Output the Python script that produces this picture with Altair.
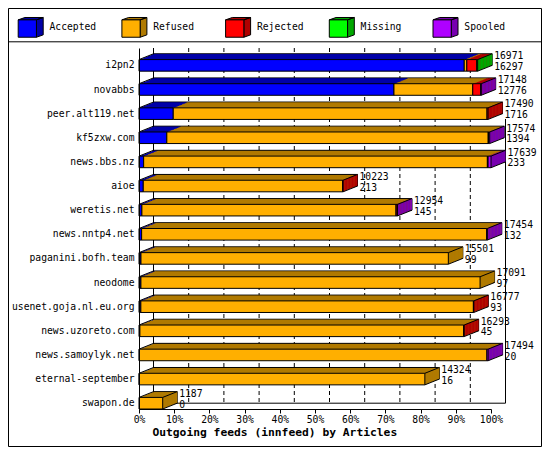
import altair as alt
import pandas as pd

# ---------------- data ----------------
hosts = ["i2pn2", "novabbs", "peer.alt119.net", "kf5zxw.com", "news.bbs.nz",
         "aioe", "weretis.net", "news.nntp4.net", "paganini.bofh.team", "neodome",
         "usenet.goja.nl.eu.org", "news.uzoreto.com", "news.samoylyk.net",
         "eternal-september", "swapon.de"]
totals = [16971, 17148, 17490, 17574, 17639, 10223, 12954, 17454, 15501, 17091,
          16777, 16293, 17494, 14324, 1187]
accepted = [16297, 12776, 1716, 1394, 233, 213, 145, 132, 99, 97, 93, 45, 20, 16, 0]
refused = [130, 3950, 15724, 16105, 17225, 9990, 12734, 17292, 15402, 16994,
           16664, 16223, 17414, 14308, 1187]
rejected = [500, 400, 50, 15, 35, 20, 60, 0, 0, 0, 20, 25, 0, 0, 0]
missing = [44, 0, 0, 0, 0, 0, 0, 0, 0, 0, 0, 0, 0, 0, 0]
spooled = [0, 22, 0, 60, 146, 0, 15, 30, 0, 0, 0, 0, 60, 0, 0]

statuses = ["Accepted", "Refused", "Rejected", "Missing", "Spooled"]
front_colors = ["#0000FF", "#FFAF00", "#FF0000", "#00FF00", "#AF00FF"]
dark_colors = ["#0000A8", "#B07A00", "#B00000", "#00A800", "#7800B0"]
TITLE = "Outgoing feeds (innfeed) by Articles"
MONO = "DejaVu Sans Mono"

# ---------------- geometry (layout only) ----------------
PL, PT, PR, PB = 131, 40, 51, 38
W, H = 352, 361
CW, CH = PL + W + PR, PT + H + PB
DX, DY = 14.5, 5.8
N = 10
PI, PO = 0.52, 0.24
STEP = H / (len(hosts) - PI + 2 * PO)
BW = STEP * (1 - PI)

# ---------------- tables ----------------
MAXT = max(totals)
series = dict(zip(statuses, [accepted, refused, rejected, missing, spooled]))
# shaded (top / side) faces use their own domain so that their legend stays separate
shade_of = {s: s + " " for s in statuses}
segs, rows = [], []
for i, h in enumerate(hosts):
    cum = 0
    last = None
    for s in statuses:
        v = series[s][i]
        if v > 0:
            segs.append(dict(host=h, status=s, shade=shade_of[s],
                             start=cum / MAXT, end=(cum + v) / MAXT))
            cum += v
            last = s
    rows.append(dict(host=h, zero=0.0, end=totals[i] / MAXT, last=shade_of[last],
                     total=str(totals[i]), acc=str(accepted[i])))
segs = pd.DataFrame(segs)
rows = pd.DataFrame(rows)
grid = pd.DataFrame({"g": [i / 10 for i in range(11)]})
one = pd.DataFrame({"a": [0.0], "b": [1.0]})

# ---------------- scales / axes ----------------
xs = alt.Scale(domain=[0, 1], nice=False, zero=True)
ys = alt.Scale(domain=hosts, paddingInner=PI, paddingOuter=PO, align=1)
xaxis = alt.Axis(values=[i / 10 for i in range(11)], format=".0%", grid=False,
                 tickSize=4, tickColor="black", domainColor="black",
                 labelFont=MONO, labelFontSize=9.7, labelColor="black",
                 labelPadding=1, labelFlush=False, labelOverlap=False,
                 titleFont=MONO, titleFontSize=11.3, titleFontWeight="bold",
                 titleColor="black", titlePadding=2.4, titleX=135.3, zindex=1)
yaxis = alt.Axis(title=None, ticks=False, tickSize=0, domainColor="black",
                 labelFont=MONO, labelFontSize=9.7, labelColor="black",
                 labelPadding=5, grid=False, labelLimit=300, zindex=1)


def X(field):
    return alt.X(field, type="quantitative", scale=xs, axis=xaxis, title=TITLE)


def Y():
    return alt.Y("host:N", scale=ys, axis=yaxis, sort=hosts)


leg_common = dict(orient="none", legendX=-121.3, legendY=-33.7,
                  direction="horizontal", columns=5, title=None,
                  symbolSize=625, symbolStrokeColor="black", symbolStrokeWidth=1,
                  symbolOpacity=1, labelFont=MONO, labelFontSize=9.7,
                  labelColor="black", labelOffset=5.8, columnPadding=22.7,
                  gridAlign="all", padding=0)
front_path = "M-1,-0.6L0.46,-0.6L0.46,0.79L-1,0.79Z"
back_path = ("M-1,-0.6L-0.46,-0.79L1,-0.79L0.46,-0.6Z"
             "M0.46,-0.6L1,-0.79L1,0.6L0.46,0.79Z")
color_enc = alt.Color("status:N", scale=alt.Scale(domain=statuses, range=front_colors),
                      legend=alt.Legend(symbolType=front_path, **leg_common))
fill_legend = alt.Legend(symbolType=back_path, labelOpacity=0, **leg_common)
fill_scale = alt.Scale(domain=[shade_of[s] for s in statuses], range=dark_colors)

layers = []

# frame and header separator
layers.append(alt.Chart(one).mark_rect(fillOpacity=0, stroke="black", strokeWidth=1).encode(
    x=alt.value(-PL + 0.5), x2=alt.value(CW - PL - 0.5),
    y=alt.value(-PT + 0.5), y2=alt.value(CH - PT - 0.5)))
layers.append(alt.Chart(one).mark_rule(color="black").encode(
    x=alt.value(-PL), x2=alt.value(CW - PL), y=alt.value(-6.2)))

# back wall grid lines
inner = grid[(grid.g > 0) & (grid.g < 1)]
layers.append(alt.Chart(inner).mark_rule(color="black", strokeDash=[4, 3], xOffset=DX).encode(
    x=X("g"), y=alt.value(0), y2=alt.value(H - DY)))
layers.append(alt.Chart(grid[grid.g == 0]).mark_rule(color="black", xOffset=DX).encode(
    x=X("g"), y=alt.value(0), y2=alt.value(H - DY)))
layers.append(alt.Chart(grid[grid.g == 1]).mark_rule(color="black", xOffset=DX).encode(
    x=X("g"), y=alt.value(71), y2=alt.value(H - DY)))
# floor
layers.append(alt.Chart(one).mark_rule(color="black", xOffset=DX, x2Offset=DX).encode(
    x=X("a"), x2="b", y=alt.value(H - DY)))

# 3D top faces (stacked steps, back to front)
for j in range(N, 0, -1):
    ox, oy = DX * j / N, -DY * j / N
    layers.append(alt.Chart(segs).mark_rect(xOffset=ox, x2Offset=ox, yOffset=oy).encode(
        x=X("start"), x2="end", y=Y(),
        fill=alt.Fill("shade:N", scale=fill_scale, legend=fill_legend)))
    if j == N:
        layers.append(alt.Chart(rows).mark_rect(
            fillOpacity=0, stroke="black", strokeWidth=1,
            xOffset=ox, x2Offset=ox, yOffset=oy).encode(
            x=X("zero"), x2="end", y=Y()))

# side faces coloured by the last segment
for j in range(N, 0, -1):
    layers.append(alt.Chart(rows).mark_rect(
        xOffset=DX * (j - 1) / N, x2Offset=DX * j / N, yOffset=-DY * j / N).encode(
        x=X("end"), x2="end", y=Y(),
        fill=alt.Fill("last:N", scale=fill_scale, legend=fill_legend)))

# front faces
layers.append(alt.Chart(segs).mark_rect(stroke="black", strokeWidth=1).encode(
    x=X("start"), x2="end", y=Y(), color=color_enc))

# slanted edges of the boxes
half = BW / 2
for fx, oy in (("zero", -half), ("end", -half), ("end", half)):
    layers.append(alt.Chart(rows).mark_rule(
        color="black", strokeWidth=1, x2Offset=DX, yOffset=oy, y2Offset=oy - DY).encode(
        x=X(fx), x2=fx, y=Y(), y2="host"))

# value labels
layers.append(alt.Chart(rows).mark_text(
    align="left", baseline="middle", dx=DX + 2, dy=-9.2,
    font=MONO, fontSize=9.7, color="black").encode(x=X("end"), y=Y(), text="total:N"))
layers.append(alt.Chart(rows).mark_text(
    align="left", baseline="middle", dx=DX + 2, dy=1.6,
    font=MONO, fontSize=9.7, color="black").encode(x=X("end"), y=Y(), text="acc:N"))

chart = alt.layer(*layers).properties(
    width=W, height=H,
    autosize=alt.AutoSizeParams(type="none"),
    padding={"left": PL, "top": PT, "right": PR, "bottom": PB},
    background="white",
).configure_view(stroke=None)

chart.save("out.html", embed_options={"renderer": "svg", "actions": False})
